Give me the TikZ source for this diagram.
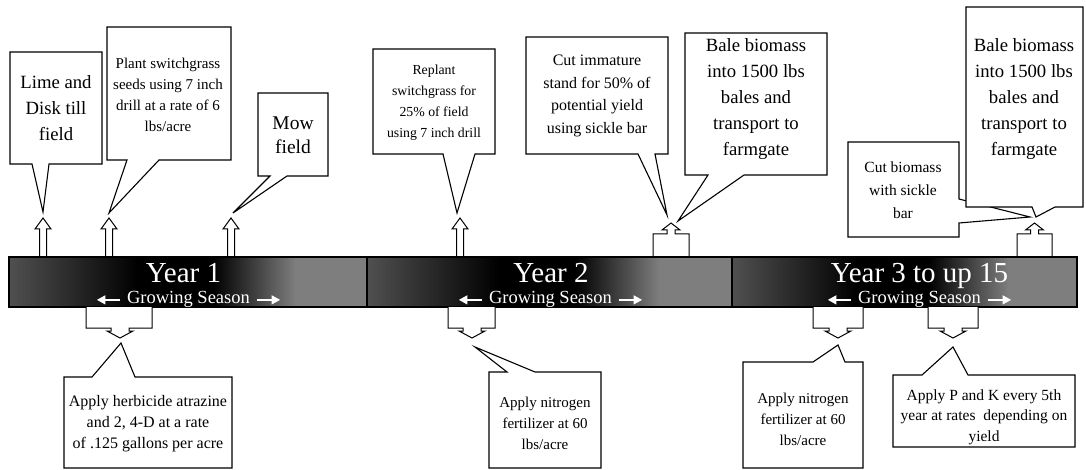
\documentclass[tikz,border=0pt]{standalone}
\usepackage{fontspec}
\setmainfont{Liberation Serif}
\usetikzlibrary{arrows.meta}
\definecolor{barL}{RGB}{80,80,80}
\definecolor{barR}{RGB}{126,126,126}
\begin{document}
\begin{tikzpicture}[x=1pt,y=-1pt,line join=miter,
  cbox/.style={draw=black,fill=white,line width=1.1pt},
  big/.style={align=center,font=\fontsize{18.7}{26}\selectfont,inner sep=0pt},
  mid/.style={align=center,font=\fontsize{16}{22.5}\selectfont,inner sep=0pt},
  small/.style={align=center,font=\fontsize{15}{21}\selectfont,inner sep=0pt},
  yeartxt/.style={text=white,font=\fontsize{29}{30}\selectfont,inner sep=0pt,anchor=base},
  gstxt/.style={text=white,font=\fontsize{18.5}{20}\selectfont,inner sep=0pt,anchor=base},
  garrow/.style={draw=white,line width=1.4pt,-{Triangle[width=9pt,length=8.5pt]}}]
\useasboundingbox (0,0) rectangle (1086,470);

% ---------- upper callouts ----------
\draw[cbox] (10,52) -- (102,52) -- (102,164) -- (49,164) -- (43,212) -- (32,164) -- (10,164) -- cycle;
\node[big] (lime) at (56,108) {Lime and\\Disk till\\field};

\draw[cbox] (107,27) -- (231,27) -- (231,160) -- (159,160) -- (109,213) -- (127,160) -- (107,160) -- cycle;
\node[small] (plant) at (168,95) {Plant switchgrass\\seeds using 7 inch\\drill at a rate of 6\\lbs/acre};

\draw[cbox] (258,93) -- (328,93) -- (328,176) -- (287,176) -- (233,213) -- (270,176) -- (258,176) -- cycle;
\node[big,font=\fontsize{19.5}{24}\selectfont] (mow) at (293,135) {Mow\\field};

\draw[cbox] (373,49) -- (495,49) -- (495,154) -- (475,154) -- (457,213) -- (443,154) -- (373,154) -- cycle;
\node[small,font=\fontsize{13.8}{21}\selectfont] (replant) at (434,103) {Replant\\switchgrass for\\25\% of field\\using 7 inch drill};

\draw[cbox] (526,37) -- (668,37) -- (668,154) -- (655,154) -- (667,215) -- (638,154) -- (526,154) -- cycle;
\node[mid] (cutimm) at (597,96) {Cut immature\\stand for 50\% of\\potential yield\\using sickle bar};

\draw[cbox] (685,33) -- (827,33) -- (827,175) -- (744,175) -- (678,221) -- (708,175) -- (685,175) -- cycle;
\node[big] (bale2) at (756,99) {Bale biomass\\into 1500 lbs\\bales and\\transport to\\farmgate};

\draw[cbox] (848,142) -- (959,142) -- (959,199) -- (1030,217) -- (959,223) -- (959,237) -- (848,237) -- cycle;
\node[mid,font=\fontsize{15.5}{23}\selectfont] (cutbio) at (903,190) {Cut biomass\\with sickle\\bar};

\draw[cbox] (966,7) -- (1083,7) -- (1083,207) -- (1055,207) -- (1036,217) -- (1032,207) -- (966,207) -- cycle;
\node[big] (bale3) at (1024,99) {Bale biomass\\into 1500 lbs\\bales and\\transport to\\farmgate};

% ---------- thin up arrows ----------
\foreach \c in {43,109,231,460}{
  \draw[cbox,line width=1pt] (\c-3.5,258) -- (\c-3.5,229) -- (\c-8,229) -- (\c,218) -- (\c+8,229) -- (\c+3.5,229) -- (\c+3.5,258);
}
% ---------- up arrow callouts ----------
\foreach \l/\r in {653/689,1017/1052}{
  \pgfmathsetmacro\m{(\l+\r)/2}
  \draw[cbox,line width=1pt] (\l,258) -- (\l,234) -- (\m-4,234) -- (\m-4,230) -- (\m-9,230) -- (\m,223) -- (\m+9,230) -- (\m+4,230) -- (\m+4,234) -- (\r,234) -- (\r,258);
}

% ---------- bar ----------
\foreach \a/\b in {9/367,367/732,732/1077}{
  \pgfmathsetmacro\w{\b-\a}
  \shade[left color=barL,right color=black] (\a,257) rectangle ({\a+0.36*\w+0.5},307);
  \fill[black] ({\a+0.36*\w},257) rectangle ({\a+0.57*\w+0.5},307);
  \shade[left color=black,right color=barR] ({\a+0.57*\w},257) rectangle ({\a+0.8*\w+0.5},307);
  \fill[barR] ({\a+0.8*\w},257) rectangle (\b,307);
  \draw[line width=1.2pt] (\a,257) rectangle (\b,307);
}

\node[yeartxt] (y1) at (183.5,283) {Year 1};
\node[yeartxt] (y2) at (551,283) {Year 2};
\node[yeartxt] (y3) at (919.5,283) {Year 3 to up 15};

\node[gstxt] (gs1) at (188.5,303) {Growing Season};
\node[gstxt] (gs2) at (550.5,303) {Growing Season};
\node[gstxt] (gs3) at (919.5,303) {Growing Season};
\foreach \g in {gs1,gs2,gs3}{
  \draw[garrow] ([xshift=-7pt,yshift=-1pt]\g.west) -- ++(-23,0);
  \draw[garrow] ([xshift=7pt,yshift=-1pt]\g.east) -- ++(23,0);
}

% ---------- down arrow callouts ----------
\foreach \l/\r/\t in {86/152/120,448/495/472,813/863/838,928/978/953}{
  \draw[cbox,line width=1pt] (\l,307) -- (\l,328) -- (\t-9,328) -- (\t-9,331) -- (\t-13,331) -- (\t,338) -- (\t+13,331) -- (\t+9,331) -- (\t+9,328) -- (\r,328) -- (\r,307);
}

% ---------- lower callouts ----------
\draw[cbox] (64,377) -- (92,377) -- (121,343) -- (135,377) -- (232,377) -- (232,468) -- (64,468) -- cycle;
\node[small,font=\fontsize{16}{21}\selectfont] (herb) at (148,424) {Apply herbicide atrazine\\and 2, 4-D at a rate\\of .125 gallons per acre};

\draw[cbox] (489,372) -- (507,372) -- (475,347) -- (535,372) -- (601,372) -- (601,468) -- (489,468) -- cycle;
\node[small] (nit2) at (545,423) {Apply nitrogen\\fertilizer at 60\\lbs/acre};

\draw[cbox] (743,362) -- (813,362) -- (838,345) -- (845,362) -- (863,362) -- (863,468) -- (743,468) -- cycle;
\node[small] (nit3) at (803,419) {Apply nitrogen\\fertilizer at 60\\lbs/acre};

\draw[cbox] (893,375) -- (922,375) -- (953,347) -- (968,375) -- (1075,375) -- (1075,447) -- (893,447) -- cycle;
\node[small,font=\fontsize{15.5}{20.5}\selectfont] (pk) at (984,417) {Apply P and K every 5th\\year at rates\ \ depending on\\yield};
\end{tikzpicture}
\end{document}
